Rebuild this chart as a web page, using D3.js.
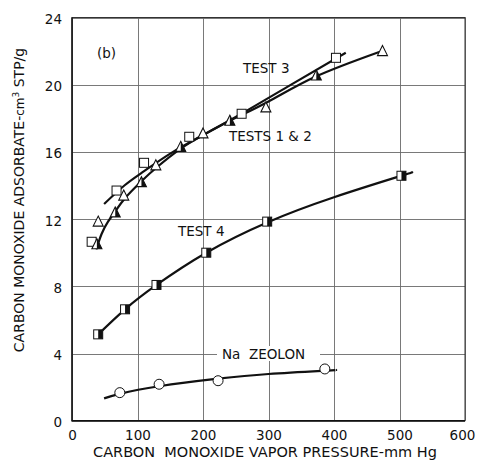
<!DOCTYPE html>
<html>
<head>
<meta charset="utf-8">
<script src="https://cdn.jsdelivr.net/npm/d3@7"></script>
<style>
  body { margin: 0; background: #fff; }
  svg { font-family: "DejaVu Sans", sans-serif; }
  .lbl { font-size: 13.5px; fill: #111; }
</style>
</head>
<body>
<div id="chart"></div>
<script>
// ticks
const xTicks = [0, 100, 200, 300, 400, 500, 600];
const yTicks = [0, 4, 8, 12, 16, 20, 24];

// measured points [pressure, adsorbate]
const test3 = [[30, 10.65], [68, 13.7], [110, 15.35], [179, 16.9], [259, 18.27], [403, 21.6]];
// tests 1 & 2: [pressure, adsorbate, halfFilled]
const tests12 = [[40, 11.85, 0], [38, 10.5, 1], [66, 12.4, 1], [79, 13.4, 0], [106, 14.2, 1], [128, 15.2, 0],
  [166, 16.3, 1], [200, 17.1, 0], [241, 17.85, 1], [296, 18.65, 0], [373, 20.55, 1], [474, 22.0, 0]];
const test4 = [[40, 5.14], [81, 6.63], [129, 8.08], [205, 10.0], [298, 11.85], [503, 14.58]];
const zeolon = [[73, 1.67], [133, 2.17], [223, 2.38], [386, 3.08]];

// fitted curves as drawn
const curve3 = [[49, 12.9], [80, 14.0], [110, 14.85], [150, 15.9], [200, 17.0], [260, 18.3], [330, 19.9], [418, 21.9]];
const curve12 = [[37, 10.2], [45, 11.1], [55, 11.85], [66, 12.45], [80, 13.2], [106, 14.25], [130, 15.1], [166, 16.2],
  [200, 17.0], [241, 17.85], [300, 19.0], [373, 20.5], [469, 21.95]];
const curve4 = [[40, 5.14], [81, 6.63], [129, 8.08], [205, 10.0], [298, 11.8], [400, 13.3], [503, 14.58], [517, 14.76]];
const curveZ = [[49, 1.33], [73, 1.6], [133, 2.05], [223, 2.5], [300, 2.78], [386, 2.98], [403, 3.02]];

const width = 477, height = 460;
const margin = {top: 17.5, right: 12, bottom: 39.3, left: 72};

const svg = d3.select('#chart').append('svg')
  .attr('width', width)
  .attr('height', height);

const x = d3.scaleLinear().domain([0, 600]).range([margin.left, width - margin.right]);
const y = d3.scaleLinear().domain([0, 24]).range([height - margin.bottom, margin.top]);

// grid lines
const grid = svg.append('g').attr('stroke', '#6a6a6a').attr('stroke-width', 0.9);
grid.selectAll('.vx').data(xTicks).join('line')
  .attr('x1', d => Math.round(x(d)) + 0.5).attr('x2', d => Math.round(x(d)) + 0.5)
  .attr('y1', y(24)).attr('y2', y(0));
grid.selectAll('.hy').data(yTicks).join('line')
  .attr('y1', d => Math.round(y(d)) + 0.5).attr('y2', d => Math.round(y(d)) + 0.5)
  .attr('x1', x(0)).attr('x2', x(600));

// tick labels via axes
const xAxis = svg.append('g')
  .attr('transform', `translate(0,${y(0)})`)
  .call(d3.axisBottom(x).tickValues(xTicks).tickSize(0).tickPadding(6));
const yAxis = svg.append('g')
  .attr('transform', `translate(${x(0)},0)`)
  .call(d3.axisLeft(y).tickValues(yTicks).tickSize(0).tickPadding(10));
[xAxis, yAxis].forEach(a => {
  a.select('.domain').remove();
  a.selectAll('text').attr('font-size', 13.5).attr('fill', '#111').attr('font-family', '"DejaVu Sans", sans-serif');
});
xAxis.selectAll('text').attr('dy', '1em').attr('dx', d => d === 600 ? -3 : 0);
yAxis.selectAll('text').attr('dy', '0.45em');

// frame
svg.append('rect')
  .attr('x', x(0)).attr('y', y(24))
  .attr('width', x(600) - x(0)).attr('height', y(0) - y(24))
  .attr('fill', 'none').attr('stroke', '#333').attr('stroke-width', 1);
svg.append('path')
  .attr('d', `M${x(0)},${y(24)}V${y(0)}H${x(600)}`)
  .attr('fill', 'none').attr('stroke', '#111').attr('stroke-width', 1.4);

// curves
const line = d3.line().x(d => x(d[0])).y(d => y(d[1])).curve(d3.curveNatural);
[curve3, curve12, curve4, curveZ].forEach(c => {
  svg.append('path')
    .attr('d', line(c))
    .attr('fill', 'none')
    .attr('stroke', '#111')
    .attr('stroke-width', 2.2);
});

// markers
const s = 9;
function square(g, d, half) {
  const px = x(d[0]), py = y(d[1]);
  g.append('rect').attr('x', px - s / 2).attr('y', py - s / 2).attr('width', s).attr('height', s)
    .attr('fill', '#fff').attr('stroke', '#111').attr('stroke-width', 1);
  if (half) {
    g.append('rect').attr('x', px).attr('y', py - s / 2).attr('width', s / 2).attr('height', s)
      .attr('fill', '#111');
  }
}
function triangle(g, d, half) {
  const px = x(d[0]), py = y(d[1]);
  const h = 9, w = 10;
  g.append('path')
    .attr('d', `M${px},${py - h / 2 - 1}L${px + w / 2},${py + h / 2}L${px - w / 2},${py + h / 2}Z`)
    .attr('fill', '#fff').attr('stroke', '#111').attr('stroke-width', 1.1);
  if (half) {
    g.append('path')
      .attr('d', `M${px},${py - h / 2 - 1}L${px + w / 2},${py + h / 2}L${px},${py + h / 2}Z`)
      .attr('fill', '#111');
  }
}

const marks = svg.append('g');
test3.forEach(d => square(marks, d, false));
tests12.forEach(d => triangle(marks, d, d[2]));
test4.forEach(d => square(marks, d, true));
marks.selectAll('circle').data(zeolon).join('circle')
  .attr('cx', d => x(d[0])).attr('cy', d => y(d[1])).attr('r', 5)
  .attr('fill', '#fff').attr('stroke', '#111').attr('stroke-width', 1);

// labels
svg.append('text').attr('class', 'lbl').attr('x', 97).attr('y', 58).text('(b)');
svg.append('text').attr('class', 'lbl').attr('x', 243).attr('y', 73).text('TEST 3');
svg.append('text').attr('class', 'lbl').attr('x', 229).attr('y', 141).text('TESTS 1 & 2');
svg.append('text').attr('class', 'lbl').attr('x', 178).attr('y', 236).text('TEST 4');
svg.append('rect').attr('x', 217).attr('y', 346).attr('width', 103).attr('height', 15).attr('fill', '#fff');
svg.append('text').attr('class', 'lbl').attr('x', 222).attr('y', 359).attr('xml:space', 'preserve').text('Na  ZEOLON');

// axis titles
svg.append('text')
  .attr('x', 265).attr('y', 457)
  .attr('text-anchor', 'middle')
  .attr('font-size', 14.5)
  .attr('fill', '#111')
  .attr('xml:space', 'preserve')
  .text('CARBON  MONOXIDE VAPOR PRESSURE-mm Hg');

const yl = svg.append('text')
  .attr('transform', 'translate(24,200) rotate(-90)')
  .attr('text-anchor', 'middle')
  .attr('fill', '#111')
  .attr('font-size', 14);
yl.append('tspan').text('CARBON MONOXIDE ADSORBATE-');
yl.append('tspan').attr('font-size', 12).text('cm');
yl.append('tspan').attr('font-size', 9).attr('dy', -5).text('3');
yl.append('tspan').attr('dy', 5).text(' STP/g');
</script>
</body>
</html>
